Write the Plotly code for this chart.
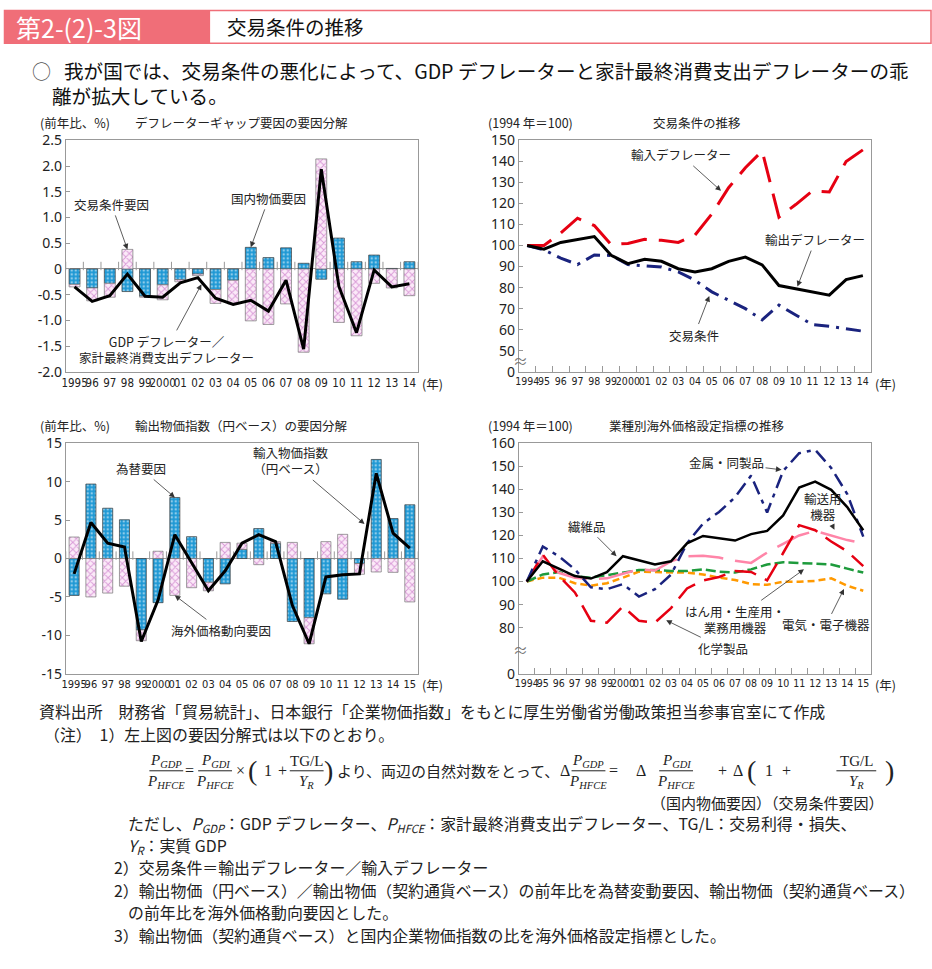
import plotly.graph_objects as go

W, H = 932, 969
JP = "Noto Sans CJK JP"
NARROW = "DejaVu Sans Condensed, Liberation Sans Narrow, sans-serif"
SERIF = "Liberation Serif, DejaVu Serif, serif"
AX = "#999999"

# ---------------- data ----------------
# Panel A: デフレーターギャップ要因の要因分解 (前年比、%)
years_a = ["1995", "96", "97", "98", "99", "2000", "01", "02", "03", "04",
           "05", "06", "07", "08", "09", "10", "11", "12", "13", "14"]
domestic_price_factor = [-0.30, -0.37, -0.28, -0.44, -0.53, -0.31, -0.21, -0.10, -0.40, -0.22,
                         0.42, 0.22, 0.41, 0.11, -0.20, 0.60, 0.14, 0.27, 0.01, 0.14]
tot_factor = [-0.05, -0.25, -0.27, 0.38, -0.02, -0.29, -0.04, -0.03, -0.27, -0.46,
              -1.01, -1.08, -0.68, -1.62, 2.14, -1.04, -1.30, -0.28, -0.37, -0.52]
gdp_hfce_gap = [-0.35, -0.63, -0.52, -0.10, -0.53, -0.55, -0.27, -0.17, -0.57, -0.69,
                -0.61, -0.82, -0.22, -1.56, 1.94, -0.34, -1.24, -0.02, -0.35, -0.29]

# Panel B: 交易条件の推移 (1994年=100)
years_b = ["1994", "95", "96", "97", "98", "99", "2000", "01", "02", "03", "04",
           "05", "06", "07", "08", "09", "10", "11", "12", "13", "14"]
import_deflator = [100, 100, 106, 113, 109.5, 100.5, 101, 103, 102.5, 101.5, 105,
                   115, 127.5, 137, 145, 113.5, 119.5, 126, 125.5, 140, 145.5]
export_deflator = [100, 98.3, 101.5, 103, 104.3, 95.4, 91.4, 93.5, 92.5, 89, 87.5,
                   89, 92.5, 94.5, 90.8, 81, 79.5, 78, 76.4, 83.8, 85.7]
terms_of_trade = [100, 98, 94, 91, 95.5, 95.3, 91, 90.5, 89.8, 87.5, 83.5,
                  78, 74, 70, 64.7, 71.7, 67, 62.4, 61.6, 60.4, 59.3]

# Panel C: 輸出物価指数（円ベース）の要因分解 (前年比、%)
years_c = ["1995", "96", "97", "98", "99", "2000", "01", "02", "03", "04",
           "05", "06", "07", "08", "09", "10", "11", "12", "13", "14", "15"]
fx_factor = [-4.8, 9.7, 6.55, 5.05, -9.3, -5.75, 7.95, 2.85, -3.1, -3.3,
             1.2, 3.9, 2.0, -8.2, -7.7, -4.6, -5.3, -0.65, 12.9, 5.2, 7.0]
overseas_price_factor = [2.8, -5.0, -4.5, -3.6, -1.4, 0.95, -4.8, -3.8, -1.1, 2.1,
                         0.8, -0.8, 0.2, 2.1, -3.4, 2.2, 3.15, -1.4, -1.75, -1.8, -5.65]
export_price_yen = [-2.0, 4.7, 2.0, 1.5, -10.8, -5.4, 3.1, -0.6, -4.2, -1.6,
                    2.0, 3.1, 2.2, -6.1, -11.1, -2.4, -2.1, -2.0, 11.1, 3.3, 1.35]

# Panel D: 業種別海外価格設定指標の推移 (1994年=100)
years_d = ["1994", "95", "96", "97", "98", "99", "2000", "01", "02", "03", "04",
           "05", "06", "07", "08", "09", "10", "11", "12", "13", "14", "15"]
textiles = [100, 108.8, 105.6, 102.4, 101.3, 104.1, 111, 109.3, 107.4, 108.8, 116.6,
            119.8, 118.8, 117.8, 120.6, 122, 128.7, 140.8, 143.4, 139.8, 132.3, 122.3]
metals = [100, 115.2, 111, 105.3, 97.5, 96.7, 98.9, 93.5, 96.7, 103, 116.6,
          125.2, 130.2, 136.6, 146, 130, 148, 155.7, 157.2, 149.3, 138, 119.5]
chemicals = [100, 111.7, 102.4, 95.3, 83, 82.2, 89.2, 83, 82.2, 88.5, 97,
             100.5, 102, 104.6, 104.2, 100.5, 112.4, 124.5, 122.3, 117.4, 113.1, 106.7]
transport = [100, 111, 103.8, 101.7, 101, 101.4, 103.4, 105.3, 104.8, 108.8, 111,
             111.2, 110.4, 109, 108.1, 112.6, 116.4, 120, 122, 120, 118, 116.6]
general_machinery = [100, 103.1, 104.1, 102.4, 101.7, 102.9, 104.1, 105, 105, 104.6, 104.6,
                     105.3, 104.3, 103.9, 105.3, 107.4, 108.4, 108.1, 107.8, 107.4, 105.6, 103.9]
electrical = [100, 101.7, 101.7, 99.3, 98.2, 99.3, 101.7, 104.3, 104.1, 104.1, 103.9,
              103.1, 101.7, 100.7, 98.9, 98.6, 99.9, 99.9, 100.3, 101.4, 98.2, 96]

# ---------------- helpers ----------------
def fx(x):
    return x / W


def fy(y):
    return 1 - y / H


PANELS = {"1": (62, 416, 133, 369), "2": (517, 871, 133, 369),
          "3": (62, 416, 442, 677), "4": (517, 871, 442, 677)}
YR = {"1": (-2.0, 2.5), "2": (40, 150), "3": (-15, 15), "4": (60, 160)}

fig = go.Figure()
layout = dict(width=W, height=H, margin=dict(l=0, r=0, t=0, b=0), autosize=False,
              paper_bgcolor="white", plot_bgcolor="white", showlegend=False,
              barmode="relative", font=dict(family=JP, color="#222"))


def ref(k):
    return ("x", "y") if k == "1" else ("x" + k, "y" + k)


def setup_axes(k, cats, tickvals, ticktext, boundary, xfs):
    x0, x1, y0, y1 = PANELS[k]
    n = len(cats)
    xr, yr_ = ref(k)
    xa = dict(domain=[fx(x0), fx(x1)], range=[-0.5, n - 0.5], anchor=yr_,
              tickmode="array", tickvals=list(range(n)), ticktext=cats, ticks="",
              tickangle=0, showline=True, mirror=True, linecolor=AX, linewidth=1,
              showgrid=False, zeroline=False,
              tickfont=dict(family=NARROW, size=xfs, color="#222"))
    if boundary:
        xa["minor"] = dict(tickmode="array", tickvals=[i - 0.5 for i in range(1, n)],
                           ticks="inside", ticklen=6, tickcolor=AX, tickwidth=1)
    ya = dict(domain=[fy(y1), fy(y0)], range=list(YR[k]), anchor=xr,
              tickmode="array", tickvals=tickvals, ticktext=ticktext,
              ticks="inside", ticklen=4, tickcolor=AX,
              showline=True, mirror=True, linecolor=AX, linewidth=1,
              showgrid=False, zeroline=(k in ("1", "3")), zerolinecolor=AX, zerolinewidth=1,
              tickfont=dict(family="Noto Sans, " + JP, size=14, color="#222"))
    layout["xaxis" if k == "1" else "xaxis" + k] = xa
    layout["yaxis" if k == "1" else "yaxis" + k] = ya


# tick labels
ta = [-2.0 + 0.5 * i for i in range(10)]
setup_axes("1", years_a, ta, ["0" if abs(v) < 1e-9 else f"{v:.1f}" for v in ta], False, 11.5)
tb = [40] + list(range(50, 151, 10))
setup_axes("2", years_b, tb, ["0"] + [str(v) for v in range(50, 151, 10)], True, 10.5)
tc = list(range(-15, 16, 5))
setup_axes("3", years_c, tc, [str(v) for v in tc], False, 11)
td = [60] + list(range(80, 161, 10))
setup_axes("4", years_d, td, ["0"] + [str(v) for v in range(80, 161, 10)], True, 10.5)

BLUE = dict(color="#1e98d4", line=dict(color="#3a3a3a", width=0.7),
            pattern=dict(shape=".", fgcolor="#ffffff", size=4, solidity=0.3, fillmode="overlay"))
PINK = dict(color="#fbeaf8", line=dict(color="#777777", width=0.7),
            pattern=dict(shape="x", fgcolor="#b64ab6", size=5, solidity=0.35, fillmode="overlay"))


def zero_ticks(k, n):
    x0, x1, y0, y1 = PANELS[k]
    lo, hi = YR[k]
    off = (hi - lo) / (y1 - y0) * 3.0
    xr, yr_ = ref(k)
    fig.add_trace(go.Scatter(x=[i - 0.5 for i in range(n + 1)], y=[off] * (n + 1),
                             mode="markers", xaxis=xr, yaxis=yr_, hoverinfo="skip",
                             marker=dict(symbol="line-ns", size=6, color=AX,
                                         line=dict(width=1, color=AX))))


# Panel 1
xs = list(range(len(years_a)))
fig.add_trace(go.Bar(x=xs, y=domestic_price_factor, width=0.62, marker=BLUE, xaxis="x", yaxis="y"))
fig.add_trace(go.Bar(x=xs, y=tot_factor, width=0.62, marker=PINK, xaxis="x", yaxis="y"))
zero_ticks("1", len(years_a))
fig.add_trace(go.Scatter(x=xs, y=gdp_hfce_gap, mode="lines", line=dict(color="black", width=3),
                         xaxis="x", yaxis="y"))

# Panel 2
xs = list(range(len(years_b)))
fig.add_trace(go.Scatter(x=xs, y=terms_of_trade, mode="lines", xaxis="x2", yaxis="y2",
                         line=dict(color="#1a237e", width=3, dash="15px,7px,3px,7px")))
fig.add_trace(go.Scatter(x=xs, y=import_deflator, mode="lines", xaxis="x2", yaxis="y2",
                         line=dict(color="#e60012", width=3, dash="26px,12px")))
fig.add_trace(go.Scatter(x=xs, y=export_deflator, mode="lines", xaxis="x2", yaxis="y2",
                         line=dict(color="black", width=3)))

# Panel 3
xs = list(range(len(years_c)))
fig.add_trace(go.Bar(x=xs, y=fx_factor, width=0.6, marker=BLUE, xaxis="x3", yaxis="y3"))
fig.add_trace(go.Bar(x=xs, y=overseas_price_factor, width=0.6, marker=PINK, xaxis="x3", yaxis="y3"))
zero_ticks("3", len(years_c))
fig.add_trace(go.Scatter(x=xs, y=export_price_yen, mode="lines", line=dict(color="black", width=3),
                         xaxis="x3", yaxis="y3"))

# Panel 4
xs = list(range(len(years_d)))
for ys, col, dash in [(electrical, "#ff9900", "7px,4px"),
                      (general_machinery, "#1e9b3c", "10px,4px"),
                      (transport, "#ff85a8", "35px,12px"),
                      (chemicals, "#e60012", "22px,10px"),
                      (metals, "#1a237e", "14px,6px,4px,6px"),
                      (textiles, "black", "solid")]:
    fig.add_trace(go.Scatter(x=xs, y=ys, mode="lines", xaxis="x4", yaxis="y4",
                             line=dict(color=col, width=2.5, dash=dash)))

# ---------------- annotations ----------------
anns = []
shapes = []


def T(x, y, text, size=15, anchor="left", color="#222", family=JP, vanchor="middle"):
    anns.append(dict(x=fx(x), y=fy(y), xref="paper", yref="paper", text=text, showarrow=False,
                     xanchor=anchor, yanchor=vanchor, font=dict(size=size, color=color, family=family)))


def A(k, x, y, text, ax, ay, size=12.5):
    xr, yr_ = ref(k)
    anns.append(dict(x=x, y=y, xref=xr, yref=yr_, text=text, showarrow=True, ax=ax, ay=ay,
                     arrowhead=2, arrowsize=1.4, arrowwidth=0.8, arrowcolor="#333",
                     font=dict(size=size, color="#222", family=JP), align="center"))


# arrows / labels inside charts
A("1", 3, 0.38, "交易条件要因", -16, -45)
A("1", 10, 0.42, "国内物価要因", 18, -49)
A("1", 7.2, -0.30, "GDP デフレーター／<br>家計最終消費支出デフレーター", -35, 65)

A("2", 11.55, 126, "輸入デフレーター", -40, -36)
A("2", 16.1, 80.5, "輸出デフレーター", 18, -47)
A("2", 10.85, 76, "交易条件", -15, 39)

A("3", 6, 7.95, "為替要因", -34, -29)
A("3", 6, -4.8, "海外価格動向要因", 46, 35)
A("3", 17.3, 4.5, "輸入物価指数<br>（円ベース）", -74, -63)

A("4", 15.9, 148.5, "金属・同製品", -55, -7)
A("4", 5.6, 111, "繊維品", -30, -30)
A("4", 19.2, 122.5, "輸送用<br>機器", -11, -23)
A("4", 17.3, 105.3, "はん用・生産用・<br>業務用機器", -69, 50)
A("4", 19.8, 96.8, "電気・電子機器", -18, 36)
A("4", 8.7, 83.2, "化学製品", 57, 28)

# panel headers
T(34, 115, "(前年比、%)", 12.5)
T(130, 115, "デフレーターギャップ要因の要因分解", 12.5)
T(484, 115, "(1994 年＝100)", 12.5)
T(650, 115, "交易条件の推移", 12.5)
T(34, 424, "(前年比、%)", 12.5)
T(130, 424, "輸出物価指数（円ベース）の要因分解", 12.5)
T(484, 424, "(1994 年＝100)", 12.5)
T(606, 424, "業種別海外価格設定指標の推移", 12.5)
for (xx, yy) in [(418, 381), (873, 381), (418, 688), (873, 688)]:
    T(xx, yy, "(年)", 12.5)
# axis breaks
T(519, 357, "≈", 15, anchor="center", color="#777")
T(519, 652, "≈", 15, anchor="center", color="#777")

# header
shapes.append(dict(type="rect", xref="paper", yref="paper", x0=fx(0.5), x1=fx(931), y0=fy(34), y1=fy(0.5),
                   line=dict(color="#f06e78", width=1.5), fillcolor="white", layer="below"))
shapes.append(dict(type="rect", xref="paper", yref="paper", x0=fx(0), x1=fx(207), y0=fy(34), y1=fy(0),
                   line=dict(width=0), fillcolor="#f06e78", layer="below"))
T(10, 17, "第2-(2)-3図", 25, color="white")
T(222, 17, "交易条件の推移", 19.5, color="#111")

# lead text
T(26, 62, "○", 19, color="#555")
T(58, 62, "我が国では、交易条件の悪化によって、GDP デフレーターと家計最終消費支出デフレーターの乖", 19.6, color="#111")
T(46, 87, "離が拡大している。", 19.6, color="#111")

# notes
NS = 15.9
T(33, 716, "資料出所　財務省「貿易統計」、日本銀行「企業物価指数」をもとに厚生労働省労働政策担当参事官室にて作成", NS)
T(38, 739, "（注）　1）左上図の要因分解式は以下のとおり。", NS)


def frac(cx, num, den, w=34):
    T(cx, 766, num, 15, anchor="center", family=SERIF)
    T(cx, 787, den, 15, anchor="center", family=SERIF)
    shapes.append(dict(type="line", xref="paper", yref="paper", x0=fx(cx - w / 2), x1=fx(cx + w / 2),
                       y0=fy(776), y1=fy(776), line=dict(color="#222", width=1)))


PG = "<i>P<sub>GDP</sub></i>"
PH = "<i>P<sub>HFCE</sub></i>"
PI = "<i>P<sub>GDI</sub></i>"
TG = "TG/L"
YRt = "<i>Y<sub>R</sub></i>"
frac(163, PG, PH)
T(186, 776, "=", 16, anchor="center", family=SERIF)
frac(212, PI, PH)
T(238, 776, "×", 16, anchor="center", family=SERIF)
T(250, 776, "(", 28, anchor="center", family=SERIF)
T(265, 776, "1", 16, anchor="center", family=SERIF)
T(280, 776, "+", 16, anchor="center", family=SERIF)
frac(304, TG, YRt)
T(326, 776, ")", 28, anchor="center", family=SERIF)
T(332, 776, "より、両辺の自然対数をとって、", 15)
T(563, 776, "Δ", 16, anchor="center", family=SERIF)
frac(587, PG, PH)
T(612, 776, "=", 16, anchor="center", family=SERIF)
T(640, 776, "Δ", 16, anchor="center", family=SERIF)
frac(675, PI, PH)
T(722, 776, "+", 16, anchor="center", family=SERIF)
T(737, 776, "Δ", 16, anchor="center", family=SERIF)
T(751, 776, "(", 28, anchor="center", family=SERIF)
T(768, 776, "1", 16, anchor="center", family=SERIF)
T(786, 776, "+", 16, anchor="center", family=SERIF)
frac(856, TG, YRt, 40)
T(889, 776, ")", 28, anchor="center", family=SERIF)
T(648, 808, "（国内物価要因）（交易条件要因）", 15)

T(123, 830, "ただし、" + PG + "：GDP デフレーター、" + PH + "：家計最終消費支出デフレーター、TG/L：交易利得・損失、", NS)
T(123, 853, YRt + "：実質 GDP", NS)
T(108, 875, "2）交易条件＝輸出デフレーター／輸入デフレーター", NS)
T(108, 898, "2）輸出物価（円ベース）／輸出物価（契約通貨ベース）の前年比を為替変動要因、輸出物価（契約通貨ベース）", NS)
T(123, 921, "の前年比を海外価格動向要因とした。", NS)
T(108, 944, "3）輸出物価（契約通貨ベース）と国内企業物価指数の比を海外価格設定指標とした。", NS)

layout["annotations"] = anns
layout["shapes"] = shapes
fig.update_layout(**layout)
fig.write_html("out.html")
